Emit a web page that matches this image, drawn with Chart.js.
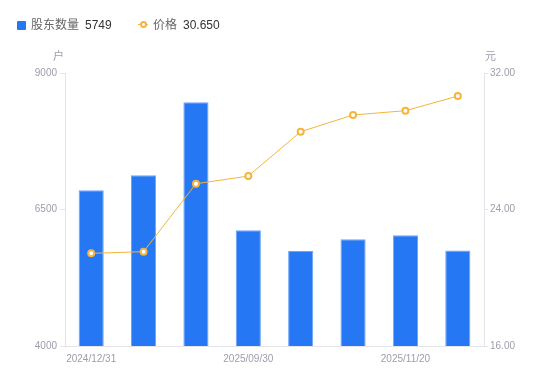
<!DOCTYPE html>
<html lang="zh">
<head>
  <meta charset="UTF-8">
  <title>股东数量与价格</title>
  <script src="https://cdn.jsdelivr.net/npm/chart.js"></script>
  <style>
    body {
      margin: 0;
      font-family: "Liberation Sans", "Noto Sans CJK SC", sans-serif;
      background: #fff;
    }
    #wrap {
      position: relative;
      width: 550px;
      height: 381px;
    }
    .lg {
      position: absolute;
      top: 17px;
      font-size: 12px;
      line-height: 16px;
      white-space: nowrap;
    }
    .name { color: #666; }
    .val { color: #333; }
    #sq {
      position: absolute;
      left: 17px; top: 21px;
      width: 9px; height: 9px;
      background: #2677f4;
      border-radius: 1px;
    }
    #ln {
      position: absolute;
      left: 138px; top: 24px;
      width: 10px; height: 1px;
      background: #f5b43c;
    }
    #dot {
      position: absolute;
      left: 139.5px; top: 21px;
      width: 3px; height: 3px;
      border: 2px solid #f5b43c;
      border-radius: 50%;
      background: #fff;
    }
  </style>
</head>
<body>
  <div id="wrap">
    <div id="sq"></div>
    <span class="lg name" style="left:31px">股东数量</span>
    <span class="lg val" style="left:85px">5749</span>
    <div id="ln"></div>
    <div id="dot"></div>
    <span class="lg name" style="left:153px">价格</span>
    <span class="lg val" style="left:183px">30.650</span>
    <canvas id="chart"></canvas>
  </div>

  <script>
    // 数据
    const dates = ["2024/12/31", "2025/03/31", "2025/06/30", "2025/09/30", "2025/10/20", "2025/10/31", "2025/11/20", "2025/11/30"];
    const holders = [6852, 7126, 8463, 6119, 5740, 5954, 6027, 5749];
    const prices = [21.43, 21.53, 25.51, 25.96, 28.56, 29.54, 29.79, 30.65];
    const leftTicks = [4000, 6500, 9000];
    const rightTicks = [16, 24, 32];

    const tickColor = "#9d9dac";
    const axisColor = "#e4e4ea";
    const fontFamily = "'Liberation Sans', 'Noto Sans CJK SC', sans-serif";

    // 坐标轴名称 户 / 元
    const axisNames = {
      id: "axisNames",
      afterDraw(chart) {
        const ctx = chart.ctx;
        const yl = chart.scales.y;
        const yr = chart.scales.y1;
        ctx.save();
        ctx.font = "11px " + fontFamily;
        ctx.fillStyle = tickColor;
        ctx.textAlign = "center";
        ctx.textBaseline = "middle";
        ctx.fillText("户", yl.right - 6.5, 57);
        ctx.fillText("元", yr.left + 6.5, 57);
        ctx.restore();
      }
    };

    new Chart(document.getElementById("chart"), {
      data: {
        labels: dates,
        datasets: [
          {
            type: "line",
            label: "价格",
            data: prices,
            yAxisID: "y1",
            order: 0,
            borderColor: "#f5b43c",
            borderWidth: 1,
            pointRadius: 3,
            pointBorderWidth: 2,
            pointBackgroundColor: "#fff",
            pointBorderColor: "#f5b43c",
            tension: 0
          },
          {
            type: "bar",
            label: "股东数量",
            data: holders,
            yAxisID: "y",
            order: 1,
            backgroundColor: "#2677f4",
            borderColor: "#6fa3f8",
            borderWidth: 1,
            categoryPercentage: 1,
            barPercentage: 0.48
          }
        ]
      },
      options: {
        responsive: true,
        maintainAspectRatio: false,
        animation: false,
        layout: { padding: { top: 73, left: 0, right: 0, bottom: 0 } },
        plugins: {
          legend: { display: false },
          tooltip: { enabled: false }
        },
        scales: {
          x: {
            grid: { display: false, drawTicks: false },
            border: { display: true, color: axisColor },
            ticks: {
              autoSkip: false,
              maxRotation: 0,
              padding: 7,
              color: tickColor,
              font: { size: 10, family: fontFamily },
              callback: function (v, i) { return i % 3 === 0 ? dates[i] : ""; }
            },
            afterFit: s => { s.height = 35; }
          },
          y: {
            position: "left",
            min: 4000,
            max: 9000,
            afterBuildTicks: s => { s.ticks = leftTicks.map(v => ({ value: v })); },
            grid: { drawOnChartArea: false, drawTicks: true, tickLength: 5, color: axisColor },
            border: { display: true, color: axisColor },
            ticks: {
              padding: 3,
              color: tickColor,
              font: { size: 10, family: fontFamily },
              callback: v => String(v)
            },
            afterFit: s => { s.width = 65; }
          },
          y1: {
            position: "right",
            min: 16,
            max: 32,
            afterBuildTicks: s => { s.ticks = rightTicks.map(v => ({ value: v })); },
            grid: { drawOnChartArea: false, drawTicks: true, tickLength: 4, color: axisColor },
            border: { display: true, color: axisColor },
            ticks: {
              padding: 2,
              color: tickColor,
              font: { size: 10, family: fontFamily },
              callback: v => Number(v).toFixed(2)
            },
            afterFit: s => { s.width = 66; }
          }
        }
      },
      plugins: [axisNames]
    });
  </script>
</body>
</html>
